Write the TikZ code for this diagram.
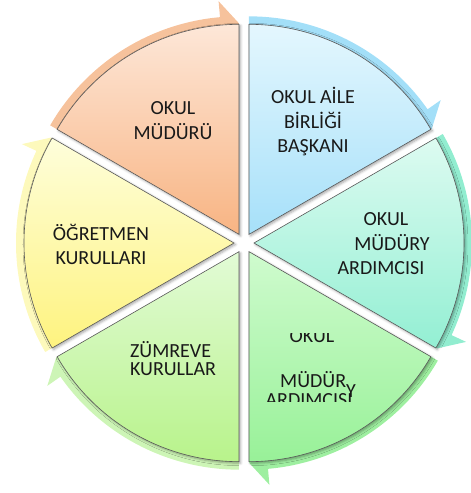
\documentclass[tikz,border=0pt]{standalone}
\usepackage{fontspec}
\setmainfont{Carlito}
\usetikzlibrary{shadows.blur}

\definecolor{orngT}{HTML}{FDE7D8}\definecolor{orngB}{HTML}{F8B483}\definecolor{orngR}{HTML}{F6C29C}
\definecolor{bluT}{HTML}{E4F7FE}\definecolor{bluB}{HTML}{A6E0F9}\definecolor{bluR}{HTML}{A3DFF8}
\definecolor{tealT}{HTML}{DDFBF1}\definecolor{tealB}{HTML}{93EFD3}\definecolor{tealR}{HTML}{92EDD0}
\definecolor{grnT}{HTML}{CFFBCE}\definecolor{grnB}{HTML}{98F198}\definecolor{grnR}{HTML}{9EEFA0}
\definecolor{lgrnT}{HTML}{E2FBD6}\definecolor{lgrnB}{HTML}{B8F38B}\definecolor{lgrnR}{HTML}{CDF5B6}
\definecolor{ylwT}{HTML}{FEFEDB}\definecolor{ylwB}{HTML}{FEF37F}\definecolor{ylwR}{HTML}{FDF9BC}

\begin{document}
\begin{tikzpicture}
\tikzset{piece/.style={draw=black!65, line width=0.6pt, blur shadow={shadow xshift=1.5pt, shadow yshift=-1.5pt, shadow blur radius=2.5pt, shadow opacity=35}}}
\tikzset{lbl/.style={font=\fontsize{20pt}{24.5pt}\selectfont, align=center, inner sep=0pt, text=black!90}}
\useasboundingbox (-244pt,-250pt) rectangle (227pt,243pt);
% ring arrows behind
\foreach \b/\col in {120/orng,60/blu,0/teal,-60/grn,240/lgrn,180/ylw}{
  \begin{scope}[shift={(\b:10pt)}]
    \fill[fill=\col R] (\b+30:190pt) -- (\b+30:218pt) arc[start angle=\b+30, end angle=\b-25, radius=218pt]
      -- (\b-25:234pt) -- (\b-30:211pt) -- (\b-25:190pt) arc[start angle=\b-25, end angle=\b+30, radius=190pt] -- cycle;
  \end{scope}}
% pie pieces
\foreach \b/\col in {120/orng,60/blu,0/teal,-60/grn,240/lgrn,180/ylw}{
  \begin{scope}[shift={(\b:10pt)}]
    \path[piece, top color=\col T, bottom color=\col B] (0,0) -- (\b+30:210pt)
      arc[start angle=\b+30, end angle=\b-30, radius=210pt] -- cycle;
  \end{scope}}
\node[lbl] (mudur) at (-71pt,122.5pt) {OKUL\\MÜDÜRÜ};
\node[lbl] (aile) at (69pt,121pt) {OKUL AİLE\\BİRLİĞİ\\BAŞKANI};
\node[lbl] (yard1) at (142pt,-1pt) {OKUL\\\hspace*{12pt}MÜDÜRY\\ARDIMCISI\hspace*{10pt}};
\node[lbl] (ogretmen) at (-143pt,-1.5pt) {ÖĞRETMEN\\KURULLARI};
\node[lbl, align=left, font=\fontsize{20pt}{18pt}\selectfont] (zumre) at (-71pt,-116pt) {ZÜMREVE\\KURULLAR};
% broken text in the lower right piece
\begin{scope}
  \clip (0pt,-90pt) rectangle (140pt,-120pt);
  \node[lbl] (okul2) at (68pt,-93.5pt) {OKUL};
\end{scope}
\node[lbl, anchor=base west] (mudur2) at (36pt,-144pt) {MÜDÜR\raisebox{-10.5pt}{Y}};
\begin{scope}
  \clip (0pt,-140pt) rectangle (140pt,-158.5pt);
  \node[lbl, anchor=base] (ard2) at (65pt,-163pt) {ARDIMCISI};
\end{scope}
\end{tikzpicture}
\end{document}
